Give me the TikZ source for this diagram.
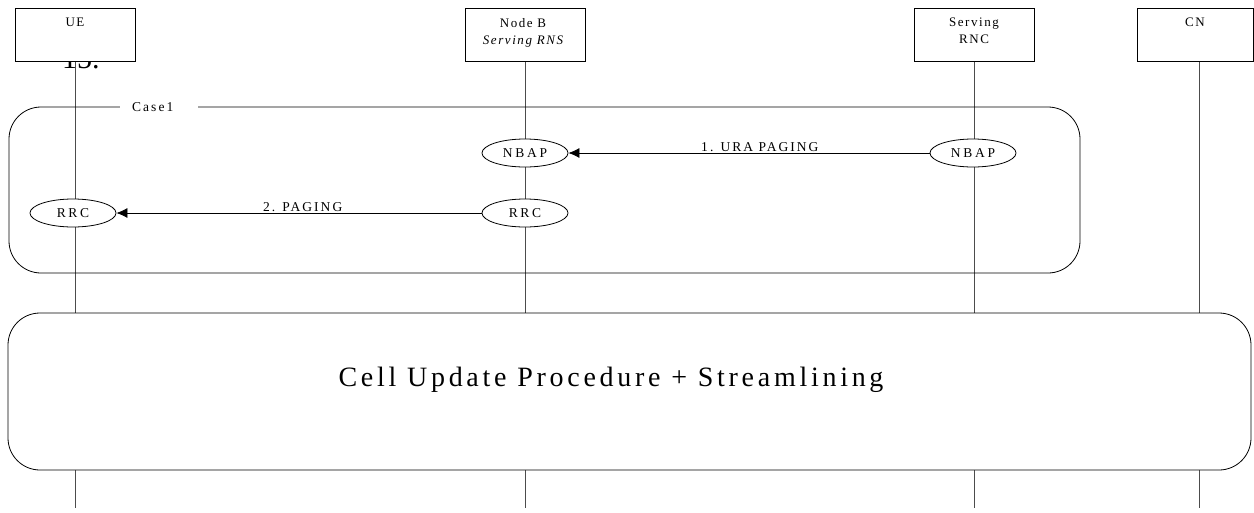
\documentclass[tikz,border=0pt]{standalone}
\usepackage{fontspec}
\setmainfont{Liberation Serif}
\usetikzlibrary{arrows.meta,shapes.geometric}
\begin{document}
\begin{tikzpicture}[x=1pt,y=-1pt,
  lbl/.style={font=\fontsize{13.5}{16}\selectfont\addfontfeature{LetterSpace=15}},
  ent/.style={draw, fill=white, minimum height=53pt, inner sep=0pt, line width=0.8pt},
  enttext/.style={font=\fontsize{13}{17}\selectfont\addfontfeature{LetterSpace=12}, anchor=north, align=center, inner sep=0pt},
  life/.style={draw=black!70, line width=0.9pt},
  proto/.style={ellipse, draw, fill=white, minimum width=86pt, minimum height=28pt, inner sep=0pt, line width=0.8pt,
    font=\fontsize{13.5}{16}\selectfont\addfontfeature{LetterSpace=20}},
  msglbl/.style={lbl, anchor=base, inner sep=0pt, yshift=1.5pt},
  msg/.style={-{Latex[length=11pt,width=10pt]}, line width=0.8pt},
  grp/.style={draw, rounded corners=32pt, line width=0.8pt}]

\useasboundingbox (0,0) rectangle (1254,512);

% stray text partly hidden under the UE box
\node[font=\fontsize{30}{30}\selectfont, anchor=base west, inner sep=0pt] (fifteen) at (62,68) {15.};

% lifeline end points
\coordinate (ueend) at (75.5,508);
\coordinate (nbend) at (525,508);
\coordinate (rncend) at (974,508);
\coordinate (cnend) at (1199,508);

% entity boxes
\node[ent, minimum width=120pt, anchor=north west] (ue) at (15,8) {};
\node[ent, minimum width=120pt, anchor=north west] (nb) at (465,8) {};
\node[ent, minimum width=120pt, anchor=north west] (rnc) at (914,8) {};
\node[ent, minimum width=116pt, anchor=north west] (cn) at (1137,8) {};

% lifelines
\draw[life] (ue.south -| ueend) -- (ueend);
\draw[life] (nb.south -| nbend) -- (nbend);
\draw[life] (rnc.south -| rncend) -- (rncend);
\draw[life] (cn.south -| cnend) -- (cnend);

% texts in the boxes
\node[enttext] (uet) at (75,18) {UE};
\node[enttext] (nbt) at (523,18) {Node B\\\itshape Serving RNS};
\node[enttext] (rnct) at (974,18) {Serving\\RNC};
\node[enttext] (cnt) at (1195,18) {CN};

% Case1 group
\draw[grp] (9,107) rectangle (1080,273);
\node[lbl, fill=white, anchor=west, inner xsep=12pt, inner ysep=3pt, text width=54pt, align=left] (case) at (120,107) {Case1};

% protocol ellipses
\node[proto] (nbap1) at (525,153) {NBAP};
\node[proto] (nbap2) at (973,153) {NBAP};
\node[proto] (rrc1) at (73,213) {RRC};
\node[proto] (rrc2) at (525,213) {RRC};

% messages
\draw[msg] (nbap2.west) -- node[msglbl, pos=0.47] (m1) {1. URA PAGING} (nbap1.east);
\draw[msg] (rrc2.west) -- node[msglbl, pos=0.49] (m2) {2. PAGING} (rrc1.east);

% big procedure box
\draw[grp, fill=white] (8,313) rectangle (1251,470);
\node[font=\fontsize{28}{30}\selectfont\addfontfeature{LetterSpace=13.3}, inner sep=0pt, anchor=base] (cup) at (611,386) {Cell Update Procedure + Streamlining};

\end{tikzpicture}
\end{document}
